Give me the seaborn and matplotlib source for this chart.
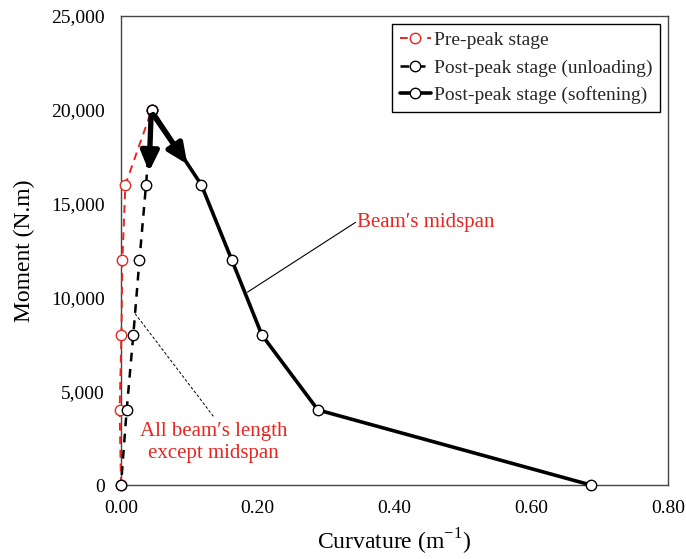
import matplotlib
matplotlib.use("Agg")
import matplotlib.pyplot as plt
import seaborn as sns

sns.set_theme(style="white")
plt.rcParams['font.family'] = ['Liberation Serif', 'DejaVu Serif']
plt.rcParams['mathtext.fontset'] = 'custom'
plt.rcParams['mathtext.rm'] = 'Liberation Serif'

# ---- data ----
pre_x = [0.0, -0.002, 0.0006, 0.002, 0.0064, 0.045]
pre_y = [0, 4000, 8000, 12000, 16000, 20000]
unl_x = [0.045, 0.0366, 0.027, 0.018, 0.0083, 0.0]
unl_y = [20000, 16000, 12000, 8000, 4000, 0]
soft_x = [0.045, 0.1175, 0.162, 0.206, 0.288, 0.687]
soft_y = [20000, 16000, 12000, 8000, 4000, 0]

labels = ["Pre-peak stage", "Post-peak stage (unloading)", "Post-peak stage (softening)"]
xticks = [0.0, 0.2, 0.4, 0.6, 0.8]
xtick_labels = ["0.00", "0.20", "0.40", "0.60", "0.80"]
yticks = [0, 5000, 10000, 15000, 20000, 25000]
ytick_labels = ["0", "5,000", "10,000", "15,000", "20,000", "25,000"]

arrow1 = [(0.044, 19700), (0.041, 16700)]
arrow2 = [(0.047, 19750), (0.097, 17100)]
midspan_text = "Beam\u2032s midspan"
midspan_line = [(0.343, 14000), (0.185, 10280)]
other_text = "All beam\u2032s length\nexcept midspan"
other_line = [(0.0205, 9140), (0.136, 3620)]

fig = plt.figure(figsize=(6.86, 5.59), dpi=100)
ax = fig.add_axes([121 / 686, 74 / 559, 547 / 686, 469 / 559])

ms = 7.5
sns.lineplot(x=pre_x, y=pre_y, sort=False, estimator=None, ax=ax, color="#e8251f",
             linestyle=(0, (4, 3)), linewidth=1.4, marker="o", markersize=ms,
             markerfacecolor="white", markeredgecolor="#e8251f", markeredgewidth=1.0,
             label=labels[0], clip_on=False, zorder=3)
sns.lineplot(x=unl_x, y=unl_y, sort=False, estimator=None, ax=ax, color="black",
             linestyle=(0, (3.5, 3)), linewidth=1.8, marker="o", markersize=ms,
             markerfacecolor="white", markeredgecolor="black", markeredgewidth=1.0,
             label=labels[1], clip_on=False, zorder=4)
sns.lineplot(x=soft_x, y=soft_y, sort=False, estimator=None, ax=ax, color="black",
             linestyle="-", linewidth=2.6, marker="o", markersize=ms,
             markerfacecolor="white", markeredgecolor="black", markeredgewidth=1.0,
             label=labels[2], clip_on=False, zorder=5)

for (s, e) in [arrow1, arrow2]:
    ax.annotate("", xy=e, xytext=s,
                arrowprops=dict(arrowstyle="-|>,head_length=1.0,head_width=0.45",
                                color="black", lw=3.8, shrinkA=0, shrinkB=0),
                zorder=6)

ax.plot([midspan_line[0][0], midspan_line[1][0]], [midspan_line[0][1], midspan_line[1][1]],
        color="black", linewidth=0.8, zorder=2)
ax.text(midspan_line[0][0] + 0.002, midspan_line[0][1], midspan_text, color="#e8251f",
        fontsize=15, ha="left", va="center")
ax.plot([other_line[0][0], other_line[1][0]], [other_line[0][1], other_line[1][1]],
        color="black", linewidth=0.7, linestyle=(0, (3, 2)), zorder=2)
ax.text(0.135, 2250, other_text, color="#e8251f", fontsize=15, ha="center", va="center",
        linespacing=1.2)

ax.set_xlim(0, 0.8)
ax.set_ylim(0, 25000)
ax.set_xticks(xticks)
ax.set_xticklabels(xtick_labels)
ax.set_yticks(yticks)
ax.set_yticklabels(ytick_labels)
ax.tick_params(axis="both", labelsize=14, length=0, colors="black")
ax.tick_params(axis="x", pad=11)
ax.tick_params(axis="y", pad=11.5)
ax.set_xlabel("Curvature (m$^{\\mathregular{-1}}$)", fontsize=17, labelpad=7, color="black")
ax.set_ylabel("Moment (N.m)", fontsize=17, labelpad=12, color="black")

for sp in ax.spines.values():
    sp.set_visible(True)
    sp.set_color("#444444")
    sp.set_linewidth(1.0)

leg = ax.legend(loc="upper right", fontsize=14, frameon=True, fancybox=False,
                edgecolor="black", framealpha=1, handlelength=1.6, handletextpad=0.15,
                borderpad=0.4, labelspacing=0.5, borderaxespad=0.4)
leg.get_frame().set_linewidth(1.0)

fig.savefig("out.png", dpi=100)
